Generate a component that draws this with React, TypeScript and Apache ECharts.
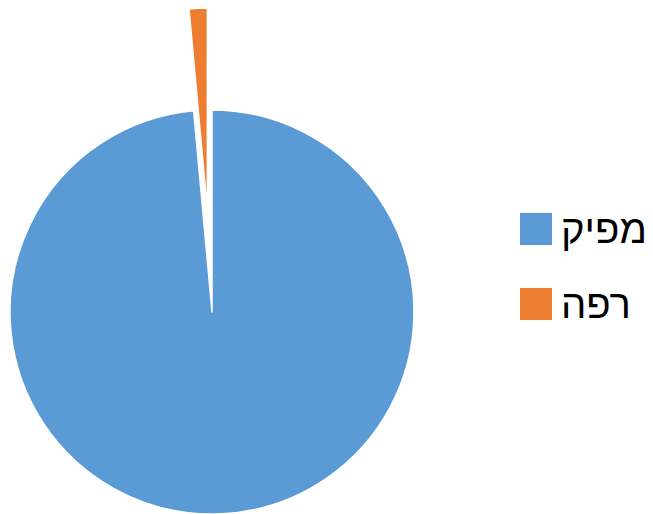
import React, { useEffect, useRef } from "react";
import * as echarts from "echarts";

const categories = ["מפיק", "רפה"];
const values = [68, 1];
const colors = ["#5B9BD5", "#ED7D31"];

export default function App() {
  const ref = useRef<HTMLDivElement>(null);
  useEffect(() => {
    if (!ref.current) return;
    const chart = echarts.init(ref.current, null, { renderer: "svg" });
    chart.setOption({
      animation: false,
      color: colors,
      legend: {
        orient: "vertical",
        left: 513,
        top: 201,
        icon: "rect",
        itemWidth: 34,
        itemHeight: 34,
        itemGap: 29,
        selectedMode: false,
        textStyle: {
          fontFamily: "Liberation Sans, Arial, sans-serif",
          fontSize: 40,
          color: "#000",
          lineHeight: 46,
          padding: [0, 0, 0, 3],
        },
        data: categories,
      },
      series: [
        {
          type: "pie",
          center: [212, 312],
          radius: 202,
          startAngle: 90,
          clockwise: true,
          selectedMode: "single",
          selectedOffset: 102,
          label: { show: false },
          labelLine: { show: false },
          emphasis: { disabled: true },
          itemStyle: { borderColor: "#fff", borderWidth: 1.5 },
          data: categories.map((name, i) => ({
            name,
            value: values[i],
            selected: i === 1,
          })),
        },
      ],
    });
    return () => chart.dispose();
  }, []);
  return (
    <div
      ref={ref}
      style={{ position: "fixed", left: 0, top: 0, width: 653, height: 514, background: "#fff" }}
    />
  );
}
